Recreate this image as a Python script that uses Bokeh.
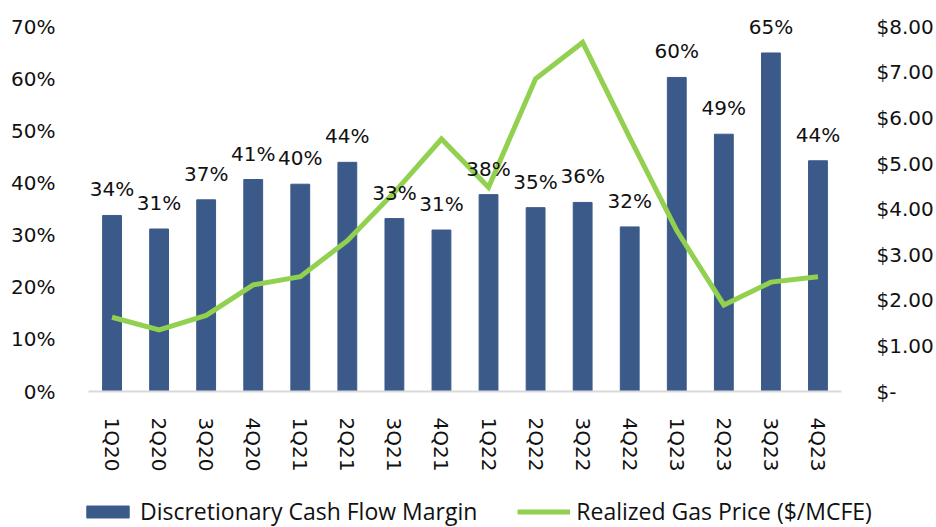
import math
from bokeh.plotting import figure
from bokeh.models import (Range1d, LinearAxis, FixedTicker, PrintfTickFormatter,
                          NumeralTickFormatter, Legend, LegendItem, ColumnDataSource, FactorRange)
from bokeh.core.properties import value
from bokeh.embed import file_html
from bokeh.resources import INLINE

quarters = ["1Q20", "2Q20", "3Q20", "4Q20", "1Q21", "2Q21", "3Q21", "4Q21",
            "1Q22", "2Q22", "3Q22", "4Q22", "1Q23", "2Q23", "3Q23", "4Q23"]
margin_pct = [33.8, 31.2, 36.8, 40.7, 39.8, 44.0, 33.2, 31.0,
              37.8, 35.3, 36.3, 31.6, 60.3, 49.4, 65.0, 44.3]
gas_price = [1.63, 1.35, 1.67, 2.34, 2.52, 3.31, 4.37, 5.54,
             4.48, 6.86, 7.66, 5.57, 3.53, 1.90, 2.40, 2.52]
left_ticks = [0, 10, 20, 30, 40, 50, 60, 70]
right_ticks = [0, 1, 2, 3, 4, 5, 6, 7, 8]
series_names = ["Discretionary Cash Flow Margin", "Realized Gas Price ($/MCFE)"]

FONT = "DejaVu Sans"
LEG_FONT = "Open Sans"
BAR_COLOR = "#3B5A8A"
LINE_COLOR = "#92D050"
TXT = "#111111"

src = ColumnDataSource(dict(
    q=quarters, m=margin_pct, g=gas_price,
    lab=["%d%%" % round(v) for v in margin_pct],
))

p = figure(x_range=FactorRange(*quarters, range_padding=0),
           y_range=Range1d(0, 72),
           width=936, height=481,
           min_border_left=88, min_border_right=95,
           min_border_top=16, min_border_bottom=90,
           output_backend="svg", toolbar_location=None,
           background_fill_color="white", border_fill_color="white")
p.outline_line_color = None
p.xgrid.grid_line_color = None
p.ygrid.grid_line_color = None

p.extra_y_ranges = {"price": Range1d(0, 8 * 72 / 70)}

p.vbar(x="q", top="m", width=0.4, source=src, fill_color=BAR_COLOR,
       line_color=BAR_COLOR)
p.line(x="q", y="g", source=src, y_range_name="price",
       line_color=LINE_COLOR, line_width=5, line_join="miter")

p.text(x="q", y="m", text="lab", source=src, text_align="center",
       text_baseline="bottom", y_offset=-14, text_font=value(FONT),
       text_font_size="20px", text_color=TXT)

# left axis
la = p.yaxis[0]
la.ticker = FixedTicker(ticks=left_ticks)
la.formatter = PrintfTickFormatter(format="%d%%")
la.axis_line_color = None
la.major_tick_line_color = None
la.minor_tick_line_color = None
la.major_label_standoff = 27
la.major_label_text_font = FONT
la.major_label_text_font_size = "20px"
la.major_label_text_color = TXT

# right axis
ra = LinearAxis(y_range_name="price", ticker=FixedTicker(ticks=right_ticks),
                formatter=NumeralTickFormatter(format="$0.00"))
ra.major_label_overrides = {0: "$-"}
ra.axis_line_color = None
ra.major_tick_line_color = None
ra.minor_tick_line_color = None
ra.major_label_standoff = 29
ra.major_label_text_font = FONT
ra.major_label_text_font_size = "20px"
ra.major_label_text_color = TXT
ra.major_label_text_align = "left"
p.add_layout(ra, "right")

# bottom axis
xa = p.xaxis[0]
xa.axis_line_color = "#D9D9D9"
xa.axis_line_width = 2
xa.major_tick_line_color = None
xa.minor_tick_line_color = None
xa.major_label_orientation = -math.pi / 2
xa.major_label_standoff = 20
xa.major_label_text_font = FONT
xa.major_label_text_font_size = "20px"
xa.major_label_text_color = TXT

# legend strip (same series, hidden renderers used only as legend keys)
pl = figure(x_range=FactorRange(*quarters), y_range=Range1d(0, 1),
            width=936, height=46, min_border=0,
            x_axis_location=None, y_axis_location=None,
            output_backend="svg", toolbar_location=None,
            background_fill_color="white", border_fill_color="white")
pl.outline_line_color = None
pl.xgrid.grid_line_color = None
pl.ygrid.grid_line_color = None
kb = pl.vbar(x="q", top="m", width=0.4, source=src, fill_color=BAR_COLOR,
             line_color=BAR_COLOR, visible=False)
kl = pl.line(x="q", y="g", source=src, line_color=LINE_COLOR, line_width=5,
             visible=False)

legend = Legend(items=[LegendItem(label=series_names[0], renderers=[kb]),
                       LegendItem(label=series_names[1], renderers=[kl])],
                orientation="horizontal", location=(81, 0))
legend.border_line_color = None
legend.background_fill_alpha = 0
legend.padding = 0
legend.margin = 0
legend.spacing = 40
legend.glyph_width = 53
legend.glyph_height = 15
legend.label_standoff = 6
legend.label_text_font = LEG_FONT
legend.label_text_font_size = "23px"
legend.label_text_color = TXT
pl.add_layout(legend)

open("out.html", "w").write(file_html([p, pl], INLINE))
